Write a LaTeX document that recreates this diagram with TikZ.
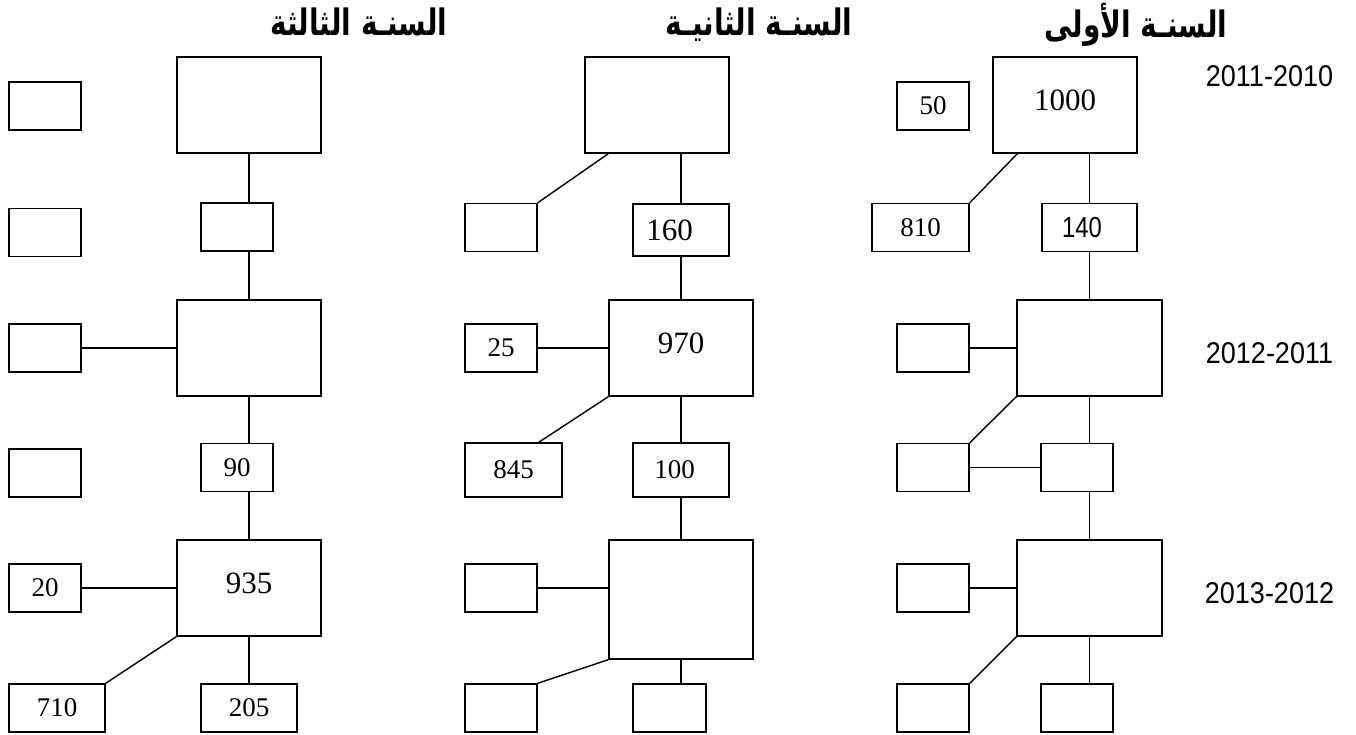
\documentclass[tikz,border=0pt]{standalone}
\usepackage{fontspec}
\setmainfont{Liberation Serif}
\newfontfamily\arabicfont[Script=Arabic]{DejaVu Sans}
\newfontfamily\narrowsans[FakeStretch=0.9]{Liberation Sans}
\newfontfamily\narrowersans[FakeStretch=0.82]{Liberation Sans}
\TeXXeTstate=1
\newcommand\tallhead[1]{\scalebox{1}[1.3]{\beginR #1\endR}}
% label sitting left of the box centre
\newcommand\leftlabel[2]{#1\hspace{#2}\mbox{}}

\begin{document}
\begin{tikzpicture}[x=1pt,y=-1pt,
  box/.style={draw, line width=1.4pt, inner sep=0pt,
    minimum width=72pt, minimum height=48pt,
    font=\fontsize{27}{27}\selectfont},
  big/.style={box, minimum width=144pt, minimum height=96pt,
    text depth=10pt, font=\fontsize{31}{31}\selectfont},
  link/.style={line width=1.4pt},
  title/.style={inner sep=0pt, anchor=base, font=\arabicfont\bfseries\fontsize{28}{28}\selectfont},
  yr/.style={inner sep=0pt, font=\narrowsans\fontsize{30}{30}\selectfont}]
\useasboundingbox (0,0) rectangle (1356,735);

% headings
\node[title] (h3) at (359,36) {\tallhead{السنـة الثالثة}};
\node[title] (h2) at (759,36) {\tallhead{السنـة الثانيـة}};
\node[title] (h1) at (1136,38) {\tallhead{السنـة الأولى}};

% year ranges
\node[yr] (y1) at (1269.5,76) {2011-2010};
\node[yr] (y2) at (1269.5,353) {2012-2011};
\node[yr] (y3) at (1269.5,593) {2013-2012};

% third year
\node[box] (t1) at (45,106) {};
\node[box] (t2) at (45,232.5) {};
\node[box] (t3) at (45,348) {};
\node[box] (t4) at (45,473) {};
\node[box] (t5) at (45,588) {20};
\node[box, minimum width=96pt] (t6) at (57,708) {710};
\node[big] (T1) at (249,105) {};
\node[box] (tm1) at (237,227) {};
\node[big] (T2) at (249,348) {};
\node[box] (tm2) at (237,467.5) {90};
\node[big] (T3) at (249,588) {935};
\node[box, minimum width=96pt] (tm3) at (249,708) {205};

\draw[link] (T1.south) -- (T1.south |- tm1.north);
\draw[link] (T1.south |- tm1.south) -- (T2.north);
\draw[link] (t3.east) -- (T2.west);
\draw[link] (T2.south) -- (T2.south |- tm2.north);
\draw[link] (T2.south |- tm2.south) -- (T3.north);
\draw[link] (t5.east) -- (T3.west);
\draw[link] (T3.south west) -- (t6.north east);
\draw[link] (T3.south) -- (tm3.north);

% second year
\node[big] (S1) at (657,105) {};
\node[box] (s1) at (501,227.5) {};
\node[box, minimum width=96pt, minimum height=52pt,
  font=\fontsize{31}{31}\selectfont] (sm1) at (681,230) {\leftlabel{160}{23pt}};
\node[big] (S2) at (681,348) {970};
\node[box] (s2) at (501,348) {25};
\node[box, minimum width=97pt, minimum height=54pt] (s3) at (513.5,470) {845};
\node[box, minimum width=96pt, minimum height=54pt] (sm2) at (681,470) {\leftlabel{100}{13pt}};
\node[big, minimum height=119pt] (S3) at (681,599.5) {};
\node[box] (s4) at (501,588) {};
\node[box] (s5) at (501,708) {};
\node[box, minimum width=73pt] (sm3) at (669.5,708) {};

\draw[link] ([xshift=24pt]S1.south west) -- (s1.north east);
\draw[link] (S1.south -| sm1.north) -- (sm1.north);
\draw[link] (sm1.south) -- (S2.north);
\draw[link] (s2.east) -- (S2.west);
\draw[link] (S2.south west) -- ([xshift=-24pt]s3.north east);
\draw[link] (S2.south) -- (sm2.north);
\draw[link] (sm2.south) -- (S3.north);
\draw[link] (s4.east) -- (s4.east -| S3.west);
\draw[link] (S3.south west) -- (s5.north east);
\draw[link] (S3.south) -- (S3.south |- sm3.north);

% first year
\node[big] (F1) at (1065,105) {1000};
\node[box] (f0) at (933,106) {50};
\node[box, minimum width=97pt] (f1) at (920.5,227.5) {810};
\node[box, minimum width=95pt, font=\narrowersans\fontsize{29}{29}\selectfont] (fm1) at (1089.5,227.5) {\leftlabel{140}{15pt}};
\node[big, minimum width=145pt] (F2) at (1089.5,348) {};
\node[box] (f2) at (933,348) {};
\node[box] (f3) at (933,467.5) {};
\node[box] (fm2) at (1077,467.5) {};
\node[big, minimum width=145pt] (F3) at (1089.5,588) {};
\node[box] (f4) at (933,588) {};
\node[box] (f5) at (933,708) {};
\node[box] (fm3) at (1077,708) {};

\draw[link] ([xshift=25pt]F1.south west) -- (f1.north east);
\draw[link] (F1.south -| fm1.north) -- (fm1.north);
\draw[link] (fm1.south) -- (F2.north);
\draw[link] (f2.east) -- (F2.west);
\draw[link] (F2.south west) -- (f3.north east);
\draw[link] (f3.east) -- (fm2.west);
\draw[link] (F2.south) -- (F2.south |- fm2.north);
\draw[link] (F2.south |- fm2.south) -- (F3.north);
\draw[link] (f4.east) -- (F3.west);
\draw[link] (F3.south west) -- (f5.north east);
\draw[link] (F3.south) -- (F3.south |- fm3.north);
\end{tikzpicture}
\end{document}
